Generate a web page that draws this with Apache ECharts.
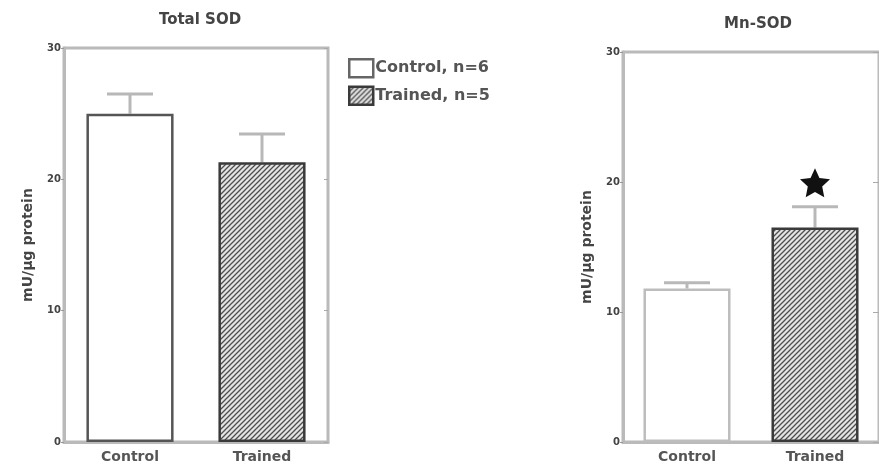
<!DOCTYPE html>
<html><head><meta charset="utf-8">
<script src="https://cdn.jsdelivr.net/npm/echarts@6/dist/echarts.min.js"></script>
<style>html,body{margin:0;padding:0;background:#fff}#c{width:879px;height:464px}</style>
</head><body><div id="c"></div>
<script>
const categories = ['Control', 'Trained'];
const totalMean = [25.0, 21.3];
const totalErr = [1.5, 2.15];
const mnMean = [11.8, 16.5];
const mnErr = [0.45, 1.6];
const legendNames = ['Control, n=6', 'Trained, n=5'];
const sigIndex = [1];

function hatch() {
  const c = document.createElement('canvas');
  c.width = 5; c.height = 5;
  const g = c.getContext('2d');
  g.fillStyle = '#e4e4e4'; g.fillRect(0, 0, 5, 5);
  g.strokeStyle = '#4e4e4e'; g.lineWidth = 1.3;
  g.beginPath();
  g.moveTo(-1, 6); g.lineTo(6, -1);
  g.moveTo(-1, 1); g.lineTo(1, -1);
  g.moveTo(4, 6); g.lineTo(6, 4);
  g.stroke();
  return { image: c, repeat: 'repeat' };
}
function starPath() {
  let d = '';
  for (let k = 0; k < 10; k++) {
    const r = k % 2 === 0 ? 50 : 24;
    const a = -Math.PI / 2 + k * Math.PI / 5;
    d += (k === 0 ? 'M' : 'L') + (50 + r * Math.cos(a)).toFixed(2) + ' ' + (50 + r * Math.sin(a)).toFixed(2);
  }
  return 'path://' + d + 'Z';
}
const pat = hatch();
const axisCol = '#bababa';
const font = 'DejaVu Sans, sans-serif';

function yAx(grid, rTick) {
  return [{
    type: 'value', gridIndex: grid, min: 0, max: 30, interval: 10,
    name: 'mU/μg protein', nameLocation: 'middle', nameGap: 29, nameRotate: 90,
    nameTextStyle: { fontSize: 14, fontWeight: 'bold', color: '#444', fontFamily: font },
    axisLine: { show: true, lineStyle: { color: axisCol, width: 3 } },
    axisTick: { show: true, length: 3, lineStyle: { color: '#999', width: 1 } },
    axisLabel: { fontSize: 10, color: '#444', margin: 3, fontWeight: 'bold', fontFamily: font },
    splitLine: { show: false }
  }, {
    type: 'value', gridIndex: grid, min: 0, max: 30, interval: 10, position: 'right',
    axisLine: { show: false },
    axisTick: { show: true, inside: true, length: rTick, lineStyle: { color: '#aaa', width: 1 } },
    axisLabel: { show: false }, splitLine: { show: false }
  }];
}
function xAx(grid) {
  return {
    type: 'category', gridIndex: grid, data: categories,
    axisLine: { show: true, lineStyle: { color: axisCol, width: 3 } },
    axisTick: { show: true, alignWithLabel: true, inside: true, length: 3, lineStyle: { color: '#999' } },
    axisLabel: { fontSize: 14, fontWeight: 'bold', color: '#555', margin: 8, fontFamily: font }
  };
}
function bars(grid, means, errs, ctrlBorder, bw) {
  const yi = grid * 2;
  return [{
    name: legendNames[0], type: 'bar', xAxisIndex: grid, yAxisIndex: yi,
    data: [means[0], '-'], barWidth: bw, barGap: '-100%',
    itemStyle: { color: '#fff', borderColor: ctrlBorder, borderWidth: 2.5 }
  }, {
    name: legendNames[1], type: 'bar', xAxisIndex: grid, yAxisIndex: yi,
    data: ['-', means[1]], barWidth: bw, barGap: '-100%',
    itemStyle: { color: pat, borderColor: '#3a3a3a', borderWidth: 2.5 }
  }, {
    type: 'custom', xAxisIndex: grid, yAxisIndex: yi,
    data: means.map((m, i) => [i, m, m + errs[i]]),
    renderItem: function (params, api) {
      const p0 = api.coord([api.value(0), api.value(1)]);
      const p1 = api.coord([api.value(0), api.value(2)]);
      const hw = 23;
      const st = { stroke: '#b8b8b8', lineWidth: 3 };
      return { type: 'group', children: [
        { type: 'line', shape: { x1: p0[0], y1: p0[1], x2: p1[0], y2: p1[1] }, style: st },
        { type: 'line', shape: { x1: p1[0] - hw, y1: p1[1], x2: p1[0] + hw, y2: p1[1] }, style: st }
      ]};
    }, z: 1
  }];
}

const chart = echarts.init(document.getElementById('c'));
chart.setOption({
  animation: false,
  title: [
    { text: 'Total SOD', left: 195, top: 8, textAlign: 'center',
      textStyle: { fontSize: 15, fontWeight: 'bold', color: '#444', fontFamily: font } },
    { text: 'Mn-SOD', left: 753, top: 12, textAlign: 'center',
      textStyle: { fontSize: 15, fontWeight: 'bold', color: '#444', fontFamily: font } }
  ],
  legend: {
    left: 343, top: 53, orient: 'vertical', itemWidth: 24, itemHeight: 18, itemGap: 7,
    selectedMode: false, icon: 'rect',
    textStyle: { fontSize: 16, fontWeight: 'bold', color: '#555', fontFamily: font, padding: [0, 0, 0, -3] },
    data: [
      { name: legendNames[0], itemStyle: { color: '#fff', borderColor: '#666', borderWidth: 2.5 } },
      { name: legendNames[1], itemStyle: { color: pat, borderColor: '#3a3a3a', borderWidth: 2.5 } }
    ]
  },
  grid: [
    { left: 64, top: 48, width: 264, height: 394, show: true, borderColor: axisCol, borderWidth: 3 },
    { left: 623, top: 52, width: 259, height: 390, show: true, borderColor: axisCol, borderWidth: 3 }
  ],
  xAxis: [xAx(0), xAx(1)],
  yAxis: yAx(0, 4).concat(yAx(1, 6)),
  series: bars(0, totalMean, totalErr, '#555', '66%')
    .concat(bars(1, mnMean, mnErr, '#bdbdbd', '68%'))
    .concat([{
      type: 'scatter', xAxisIndex: 1, yAxisIndex: 2,
      symbol: starPath(), symbolSize: [30, 29], symbolOffset: [0, -24],
      itemStyle: { color: '#111', opacity: 1 },
      data: sigIndex.map(i => [i, mnMean[i] + mnErr[i]])
    }])
});
</script></body></html>
